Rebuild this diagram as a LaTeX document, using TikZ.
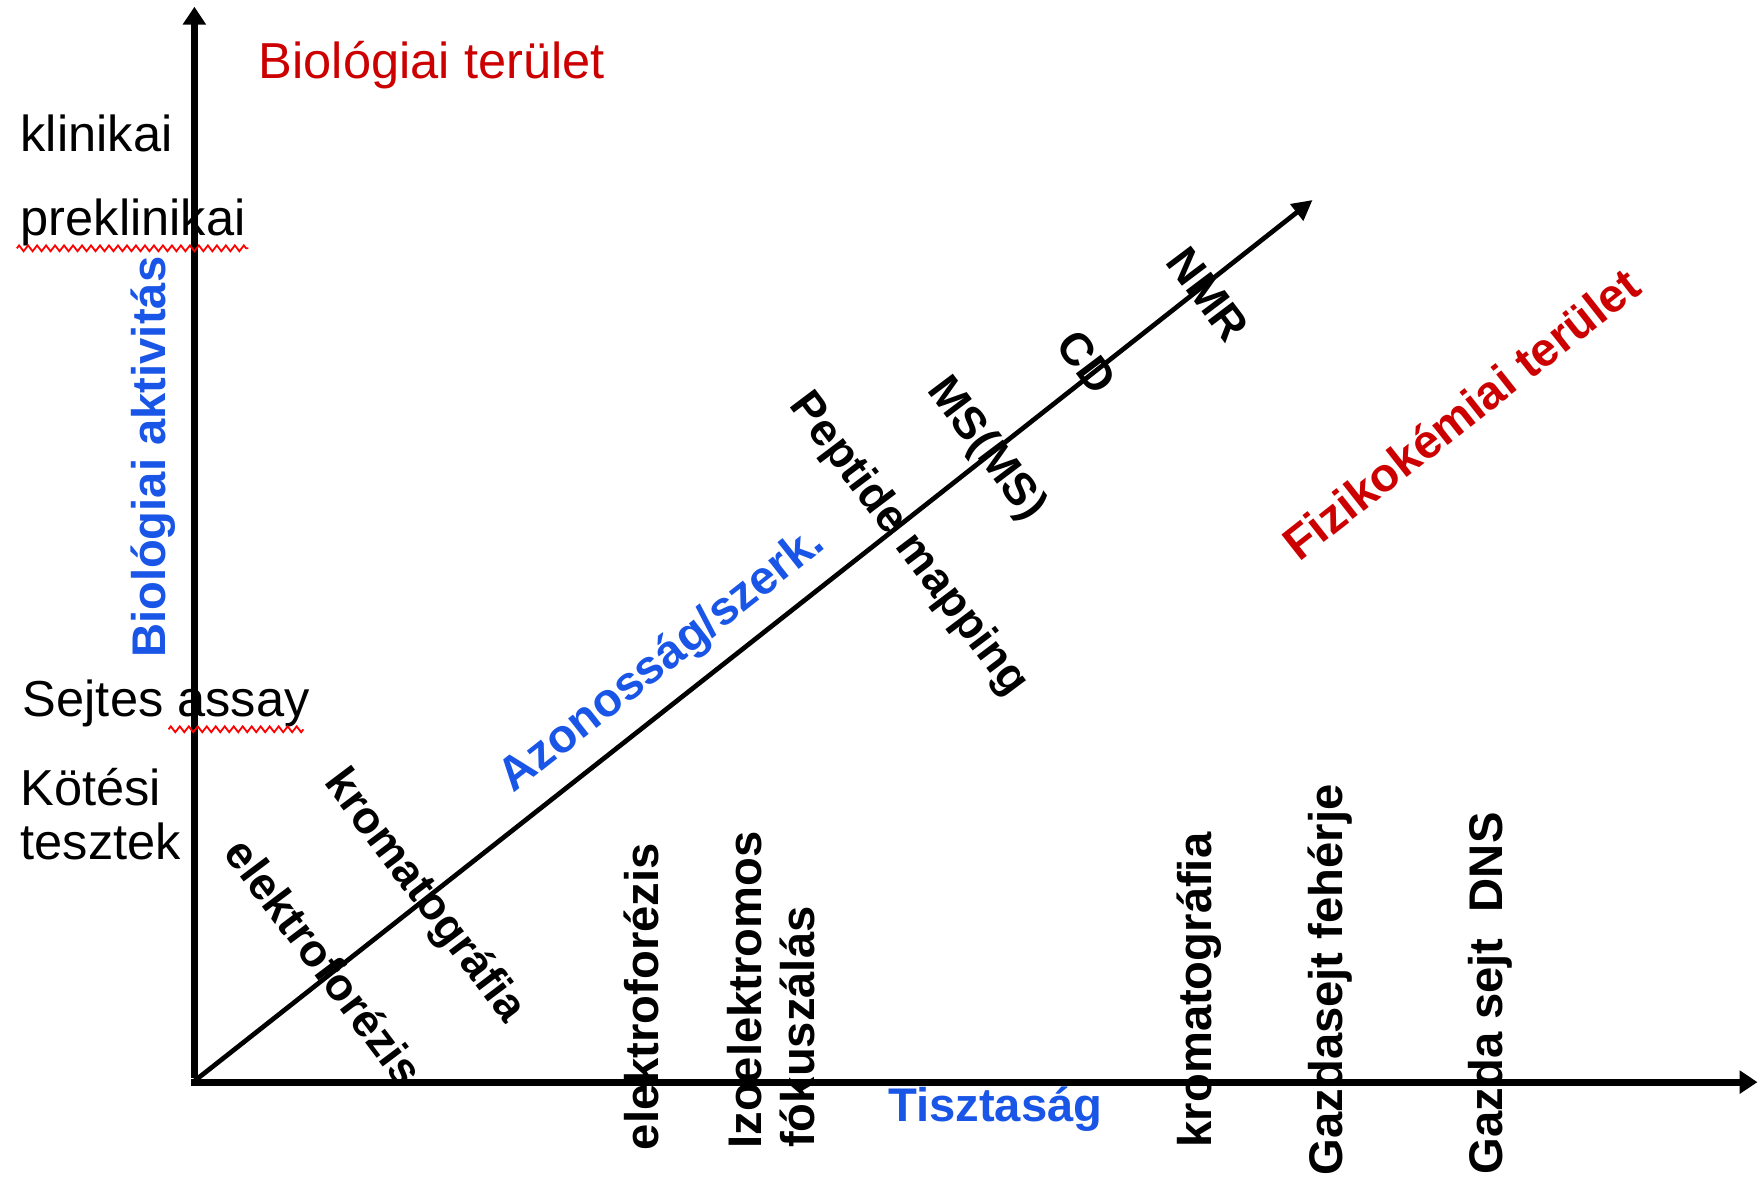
\documentclass[tikz,border=0pt]{standalone}
\usepackage{fontspec}
\setmainfont{Liberation Sans}
\usetikzlibrary{arrows.meta,decorations.pathmorphing}
\definecolor{myred}{RGB}{204,0,0}
\definecolor{myblue}{RGB}{25,85,230}
\begin{document}
\begin{tikzpicture}[x=0.5pt,y=-0.5pt,
  axisline/.style={line width=3pt,-{Triangle[length=8pt,width=10pt]}},
  diagline/.style={line width=2.1pt,-{Triangle[length=9pt,width=9pt]}},
  lab/.style={inner sep=0pt,font=\fontsize{22.5}{27}\selectfont},
  blab/.style={inner sep=0pt,font=\fontsize{21}{25}\selectfont\bfseries},
  vlab/.style={blab,rotate=90,anchor=base},
  plab/.style={blab,font=\fontsize{20.2}{24}\selectfont\bfseries,rotate=-53},
  wavy/.style={draw=red,line width=0.8pt,decorate,decoration={zigzag,segment length=4pt,amplitude=1.3pt}}]
\useasboundingbox (0,0) rectangle (1568,1047);
\coordinate (O) at (173,962);
\coordinate (Ytop) at (173,6);
\coordinate (Xend) at (1564,963);
\coordinate (Dend) at (1168,178);
\draw[axisline] ([yshift=1.5pt]O) -- (Ytop);
\draw[axisline] ([xshift=-1.5pt]O |- Xend) -- (Xend);
\draw[diagline] (O) -- (Dend);

\node[lab,text=myred,anchor=base west] (bioter) at (230,70) {Biológiai terület};
\node[lab,anchor=base west] (klin) at (18,135) {klinikai};
\node[lab,anchor=base west] (preklin) at (18,210) {preklinikai};
\node[lab,anchor=base west] (sejtes) at (20,638) {Sejtes assay};
\node[lab,anchor=base west] (kotesi) at (18,717) {Kötési};
\node[lab,anchor=base west] (tesztek) at (18,765) {tesztek};
\node[blab,text=myblue,rotate=90,anchor=base] (bioakt) at (147,407) {Biológiai aktivitás};

\draw[wavy] ([shift={(-3,11)}]preklin.base west) -- ++(206,0);
\draw[wavy] ([shift={(130,11)}]sejtes.base west) -- ++(120,0);

\node[plab] (elf1) at (289,856) {elektroforézis};
\node[plab] (krom1) at (377,798) {kromatográfia};
\node[blab,text=myblue,rotate=38.2] (azon) at (590,588) {Azonosság/szerk.};
\node[plab] (pept) at (808,485) {Peptide mapping};
\node[plab] (ms) at (877,400) {MS(MS)};
\node[plab] (cd) at (967,322) {CD};
\node[plab] (nmr) at (1075,262) {NMR};
\node[blab,text=myred,rotate=38.2] (fiz) at (1300,368) {Fizikokémiai terület};

\node[vlab] (elf2) at (586,887) {elektroforézis};
\node[vlab] (izo) at (678,881) {Izoelektromos};
\node[vlab] (fok) at (725,914) {fókuszálás};
\node[blab,text=myblue,anchor=base west] (tiszt) at (790,998) {Tisztaság};
\node[vlab] (krom2) at (1078,881) {kromatográfia};
\node[vlab] (gfeh) at (1195,872) {Gazdasejt fehérje};
\node[vlab] (gdns) at (1337,884) {Gazda sejt\ \ DNS};
\end{tikzpicture}
\end{document}
